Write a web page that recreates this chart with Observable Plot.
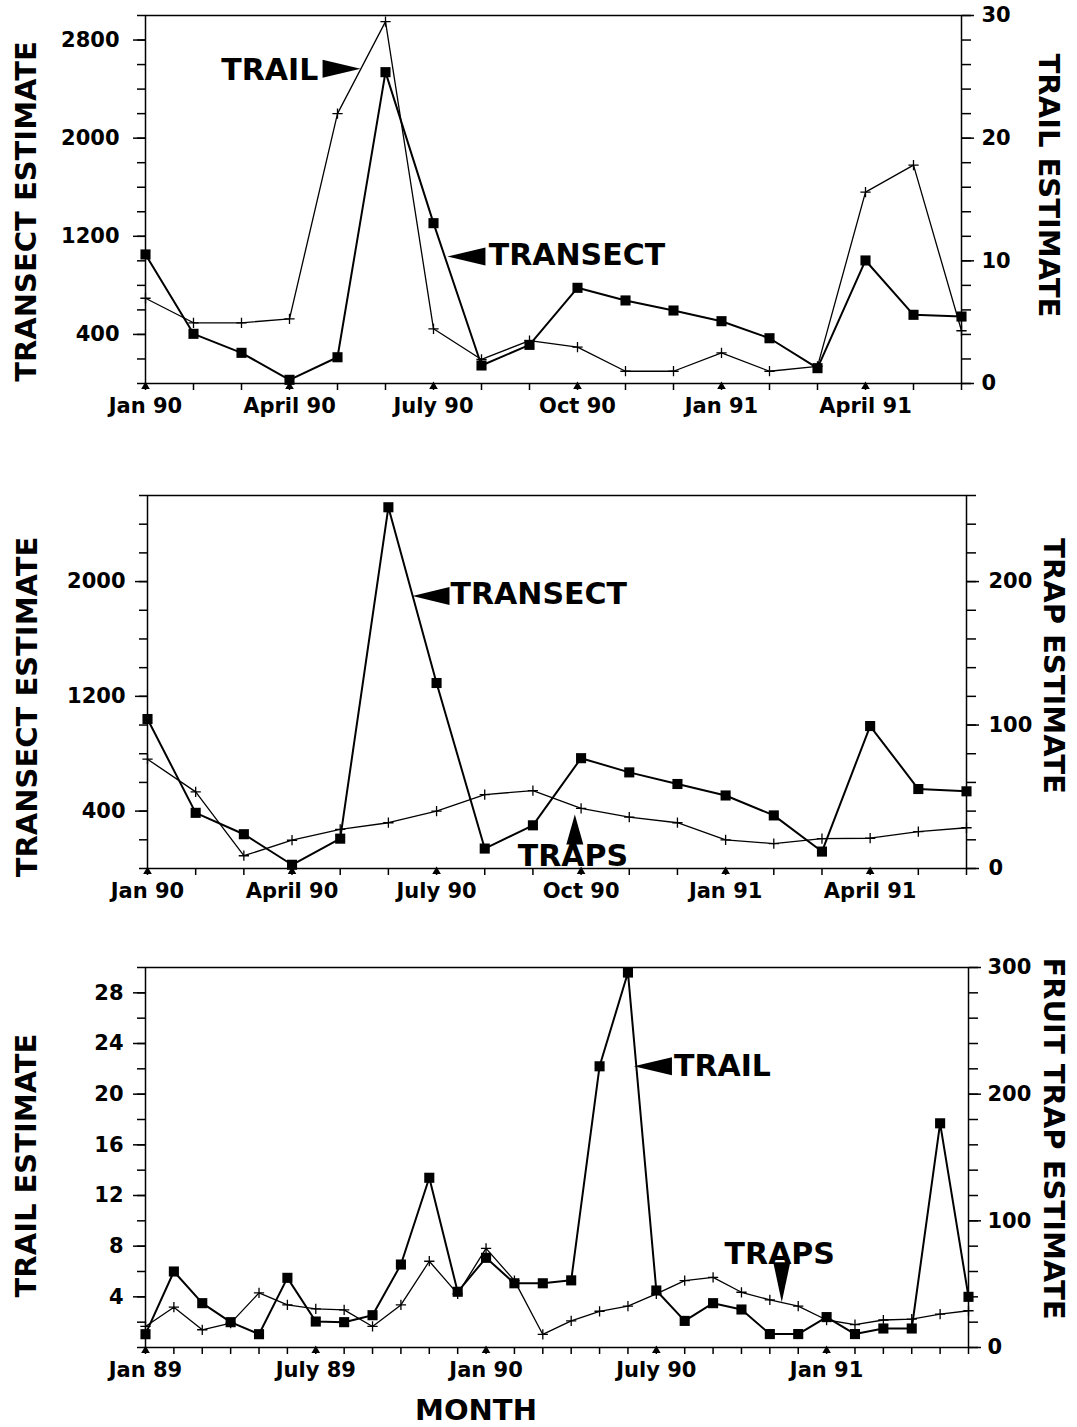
<!DOCTYPE html>
<html>
<head>
<meta charset="utf-8">
<script src="https://cdn.jsdelivr.net/npm/d3@7"></script>
<script src="https://cdn.jsdelivr.net/npm/@observablehq/plot@0.6"></script>
<style>
  body { margin: 0; background: white; }
  #root { position: relative; width: 1077px; height: 1427px; background: white; }
  .panel { position: absolute; left: 0; }
</style>
</head>
<body>
<div id="root"></div>
<script>
// ---------------- DATA ----------------
// Panels 1 and 2: Jan 90 .. June 91
const months1 = ["Jan 90","Feb 90","Mar 90","Apr 90","May 90","Jun 90","Jul 90","Aug 90","Sep 90","Oct 90","Nov 90","Dec 90","Jan 91","Feb 91","Mar 91","Apr 91","May 91","Jun 91"];
const xTickLabels1 = ["Jan 90","","","April 90","","","July 90","","","Oct 90","","","Jan 91","","","April 91","",""];

// Panel 1: transect (left axis) and trail (right axis)
const transect1 = [1052, 405, 250, 30, 214, 2538, 1307, 147, 315, 780, 677, 595, 508, 369, 125, 1003, 560, 546];
const trail1    = [6.95, 4.95, 4.95, 5.27, 22.0, 29.5, 4.46, 1.96, 3.5, 2.96, 1.0, 1.0, 2.5, 1.0, 1.4, 15.6, 17.8, 4.3];

// Panel 2: transect (left axis) and traps (right axis)
const transect2 = [1042, 388, 239, 26, 208, 2518, 1293, 139, 301, 769, 670, 589, 509, 370, 118, 993, 554, 538];
const traps2    = [76.2, 53.4, 8.9, 19.7, 27.3, 31.9, 40, 51.5, 54.3, 41.9, 35.8, 31.9, 19.9, 17.4, 20.8, 21.1, 25.7, 28.4];

// Panel 3: Jan 89 .. June 91, trail (left axis) and fruit traps (right axis)
const months3 = ["Jan 89","Feb 89","Mar 89","Apr 89","May 89","Jun 89","Jul 89","Aug 89","Sep 89","Oct 89","Nov 89","Dec 89",
                 "Jan 90","Feb 90","Mar 90","Apr 90","May 90","Jun 90","Jul 90","Aug 90","Sep 90","Oct 90","Nov 90","Dec 90",
                 "Jan 91","Feb 91","Mar 91","Apr 91","May 91","Jun 91"];
const xTickLabels3 = ["Jan 89","","","","","","July 89","","","","","","Jan 90","","","","","","July 90","","","","","","Jan 91","","","","",""];
const trail3 = [1.05, 6.0, 3.5, 2.0, 1.05, 5.5, 2.05, 2.0, 2.55, 6.55, 13.4, 4.4, 7.08, 5.07, 5.07, 5.3, 22.2, 29.6, 4.5, 2.1, 3.5, 3.0, 1.06, 1.06, 2.4, 1.06, 1.5, 1.5, 17.7, 4.0];
const traps3 = [16.6, 31.8, 14, 19.2, 43.1, 33.6, 30.5, 29.7, 16.6, 33.6, 68.1, 42.3, 78.3, 52.8, 10.3, 21, 28.6, 32.6, 42.3, 52.8, 55.4, 43.6, 37.6, 32.6, 21.7, 18, 21.7, 22.4, 26.3, 29];

// Axis tick values
const leftTicks1 = [400, 1200, 2000, 2800];
const rightTicks1 = [0, 10, 20, 30];
const leftTicks2 = [400, 1200, 2000];
const rightTicks2 = [0, 100, 200];
const leftTicks3 = [4, 8, 12, 16, 20, 24, 28];
const rightTicks3 = [0, 100, 200, 300];

// ---------------- DRAWING ----------------
const FONT = "DejaVu Sans";

// elongated arrow-head symbol; tip at the anchor point
function arrowSymbol(dir, wRatio) {
  return {
    draw(ctx, size) {
      const r = Math.sqrt(size / Math.PI), L = 4 * r, w = wRatio * r;
      const pts = {
        up: [[0, 0], [w, L], [-w, L]],
        down: [[0, 0], [w, -L], [-w, -L]],
        left: [[0, 0], [L, w], [L, -w]],
        right: [[0, 0], [-L, w], [-L, -w]]
      }[dir];
      ctx.moveTo(pts[0][0], pts[0][1]);
      ctx.lineTo(pts[1][0], pts[1][1]);
      ctx.lineTo(pts[2][0], pts[2][1]);
      ctx.closePath();
    }
  };
}

function panel(cfg) {
  const n = cfg.n;
  const idx = d3.range(n);
  const marks = [];
  // minor ticks
  marks.push(Plot.axisY(cfg.leftMinor, {anchor: "left", tickSize: 8, strokeWidth: 1.5, tickFormat: () => "", label: null}));
  marks.push(Plot.axisY(cfg.rightMinor, {anchor: "right", tickSize: 9, strokeWidth: 1.5, tickFormat: () => "", label: null}));
  // major ticks
  marks.push(Plot.axisY(cfg.leftTicks, {anchor: "left", tickSize: 12, tickPadding: cfg.leftPad, strokeWidth: 1.5,
    tickFormat: d => String(d), label: null, fontSize: 21, fontWeight: "bold", fontFamily: FONT}));
  marks.push(Plot.axisY(cfg.rightTicksPos, {anchor: "right", tickSize: 12, tickPadding: cfg.rightPad, strokeWidth: 1.5,
    tickFormat: cfg.rightFormat, label: null, fontSize: 21, fontWeight: "bold", fontFamily: FONT}));
  marks.push(Plot.axisX(idx, {anchor: "bottom", tickSize: 7, tickPadding: 8, strokeWidth: 1.5,
    tickFormat: i => cfg.xLabels[i], label: null, fontSize: 21, fontWeight: "bold", fontFamily: FONT}));
  // triangles at labelled months
  marks.push(Plot.dot(idx.filter(i => cfg.xLabels[i] !== ""), {x: d => d, y: cfg.yDomain[0], symbol: "triangle", r: 3.2, fill: "black", stroke: "none", dy: 3}));
  marks.push(Plot.frame({stroke: "black", strokeWidth: 1.5}));
  // series
  for (const s of cfg.series) {
    const rows = idx.map(i => ({i, v: s.values[i] * s.k}));
    marks.push(Plot.line(rows, {x: "i", y: "v", stroke: "black", strokeWidth: s.sw}));
    if (s.symbol === "square") {
      marks.push(Plot.dot(rows, {x: "i", y: "v", symbol: "square", r: 5.7, fill: "black", stroke: "none"}));
    } else {
      marks.push(Plot.dot(rows, {x: "i", y: "v", symbol: "plus", r: 3.4, fill: "none", stroke: "black", strokeWidth: 1.3}));
    }
  }
  // annotations
  for (const a of cfg.arrows) {
    const r = a.len / 4;
    marks.push(Plot.dot([a], {x: "x", y: "y", r, symbol: arrowSymbol(a.dir, (a.wid / 2) / r), fill: "black", stroke: "none"}));
  }
  for (const t of cfg.notes) {
    marks.push(Plot.text([t], {x: "x", y: "y", text: "label", textAnchor: t.anchor, lineAnchor: "middle",
      fontSize: 30, fontWeight: "bold", fontFamily: FONT, fill: "black"}));
  }
  // axis titles
  for (const t of cfg.titles) {
    marks.push(Plot.text([t.text], {text: d => d, frameAnchor: t.frame, rotate: t.rotate, dx: t.dx, dy: t.dy,
      textAnchor: "middle", lineAnchor: "middle",
      fontSize: 29, fontWeight: "bold", fontFamily: FONT, fill: "black"}));
  }
  const chart = Plot.plot({
    width: 1077,
    height: cfg.height,
    marginTop: cfg.mt, marginBottom: cfg.mb, marginLeft: cfg.ml, marginRight: cfg.mr,
    x: {type: "linear", domain: [0, n - 1]},
    y: {type: "linear", domain: cfg.yDomain},
    style: {fontFamily: FONT, fontWeight: "bold", fontSize: "21px", color: "black", background: "white", overflow: "visible"},
    marks
  });
  const wrap = document.createElement("div");
  wrap.className = "panel";
  wrap.style.top = cfg.top + "px";
  wrap.appendChild(chart);
  document.getElementById("root").appendChild(wrap);
}

// Panel 1
panel({
  n: months1.length, top: 0, height: 440, mt: 15, mb: 57, ml: 145, mr: 116,
  yDomain: [0, 3000], xLabels: xTickLabels1,
  leftTicks: leftTicks1, leftMinor: d3.range(0, 3001, 200), leftPad: 14,
  rightTicksPos: rightTicks1.map(d => d * 100), rightFormat: d => String(d / 100), rightMinor: d3.range(0, 3001, 200), rightPad: 8,
  series: [
    {values: transect1, k: 1, symbol: "square", sw: 2},
    {values: trail1, k: 100, symbol: "plus", sw: 1.3}
  ],
  arrows: [
    {x: 4.48, y: 2565, dir: "right", len: 38, wid: 18},
    {x: 6.29, y: 1035, dir: "left", len: 38, wid: 18}
  ],
  notes: [
    {x: 3.60, y: 2556, label: "TRAIL", anchor: "end"},
    {x: 7.15, y: 1043, label: "TRANSECT", anchor: "start"}
  ],
  titles: [
    {text: "TRANSECT ESTIMATE", frame: "left", rotate: -90, dx: -119, dy: 12},
    {text: "TRAIL ESTIMATE", frame: "right", rotate: 90, dx: 87, dy: -14}
  ]
});

// Panel 2
panel({
  n: months1.length, top: 440, height: 470, mt: 55, mb: 42, ml: 147, mr: 111,
  yDomain: [0, 2600], xLabels: xTickLabels1,
  leftTicks: leftTicks2, leftMinor: d3.range(0, 2601, 200), leftPad: 10,
  rightTicksPos: rightTicks2.map(d => d * 10), rightFormat: d => String(d / 10), rightMinor: d3.range(0, 2601, 200), rightPad: 10,
  series: [
    {values: transect2, k: 1, symbol: "square", sw: 2},
    {values: traps2, k: 10, symbol: "plus", sw: 1.3}
  ],
  arrows: [
    {x: 5.50, y: 1900, dir: "left", len: 37, wid: 18},
    {x: 8.87, y: 377, dir: "up", len: 30, wid: 17}
  ],
  notes: [
    {x: 6.29, y: 1909, label: "TRANSECT", anchor: "start"},
    {x: 8.83, y: 82, label: "TRAPS", anchor: "middle"}
  ],
  titles: [
    {text: "TRANSECT ESTIMATE", frame: "left", rotate: -90, dx: -120, dy: 25},
    {text: "TRAP ESTIMATE", frame: "right", rotate: 90, dx: 87, dy: -16}
  ]
});

// Panel 3
panel({
  n: months3.length, top: 910, height: 517, mt: 57, mb: 80, ml: 145, mr: 109,
  yDomain: [0, 30], xLabels: xTickLabels3,
  leftTicks: leftTicks3, leftMinor: d3.range(0, 31, 2), leftPad: 10,
  rightTicksPos: rightTicks3.map(d => d / 10), rightFormat: d => String(Math.round(d * 10)), rightMinor: d3.range(0, 31, 2), rightPad: 7,
  series: [
    {values: trail3, k: 1, symbol: "square", sw: 2},
    {values: traps3, k: 0.1, symbol: "plus", sw: 1.3}
  ],
  arrows: [
    {x: 17.21, y: 22.2, dir: "left", len: 38, wid: 18},
    {x: 22.42, y: 3.57, dir: "down", len: 40, wid: 17}
  ],
  notes: [
    {x: 18.62, y: 22.2, label: "TRAIL", anchor: "start"},
    {x: 22.35, y: 7.34, label: "TRAPS", anchor: "middle"}
  ],
  titles: [
    {text: "TRAIL ESTIMATE", frame: "left", rotate: -90, dx: -119, dy: 8},
    {text: "FRUIT TRAP ESTIMATE", frame: "right", rotate: 90, dx: 85, dy: -19},
    {text: "MONTH", frame: "bottom", rotate: 0, dx: -81, dy: 63}
  ]
});
</script>
</body>
</html>
